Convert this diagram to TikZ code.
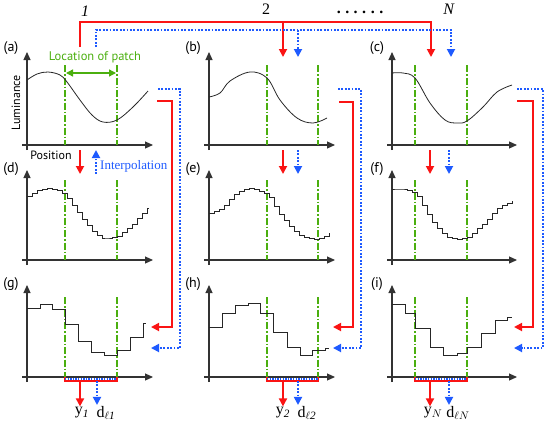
\documentclass[tikz,border=0pt]{standalone}
\usepackage{fontspec}
\setmainfont{Liberation Serif}
\setsansfont{PT Sans}
\usetikzlibrary{arrows.meta}
\definecolor{patchgreen}{RGB}{75,175,15}
\definecolor{flowred}{RGB}{250,20,20}
\definecolor{flowblue}{RGB}{30,90,255}

\begin{document}
\begin{tikzpicture}[x=1pt,y=-1pt,
  axisline/.style={line width=1.1pt,black!80,-{Triangle[length=8pt,width=7pt]}},
  patchline/.style={patchgreen,line width=1.6pt,dash pattern=on 7pt off 2pt on 1.5pt off 2pt},
  signal/.style={line width=0.8pt,black!85},
  redflow/.style={flowred,line width=1.8pt},
  blueflow/.style={flowblue,line width=1.8pt,dash pattern=on 1.8pt off 1.6pt},
  flowtip/.style={-{Triangle[length=8pt,width=8pt]}},
  lbl/.style={font=\sffamily\fontsize{14}{14}\selectfont},
  outlbl/.style={font=\fontsize{16}{16}\selectfont,inner sep=1pt}]
\useasboundingbox (0,0) rectangle (545,429);

% column headers
\node[outlbl] (n1) at (85,11) {\textit{1}};
\node[outlbl] (n2) at (266,9) {2};
\node[outlbl] (nN) at (449,9) {\textit{N}};
\node[outlbl] (dots) at (360,12) {\textbf{.\hspace{4.5pt}.\hspace{4.5pt}.\hspace{4.5pt}.\hspace{4.5pt}.\hspace{4.5pt}.}};

% axes
\draw[axisline] (22,145) -- (153,145); \draw[axisline] (27,150) -- (27,52);
\draw[axisline] (204,145) -- (335,145); \draw[axisline] (209,150) -- (209,52);
\draw[axisline] (387,145) -- (517,145); \draw[axisline] (392,150) -- (392,52);
\draw[axisline] (22,260) -- (153,260); \draw[axisline] (27,265) -- (27,170);
\draw[axisline] (204,260) -- (335,260); \draw[axisline] (209,265) -- (209,170);
\draw[axisline] (387,260) -- (517,260); \draw[axisline] (392,265) -- (392,170);
\draw[axisline] (22,377) -- (153,377); \draw[axisline] (27,382) -- (27,285);
\draw[axisline] (204,377) -- (335,377); \draw[axisline] (209,382) -- (209,285);
\draw[axisline] (387,377) -- (517,377); \draw[axisline] (392,382) -- (392,285);

\node[lbl] (pa) at (11,48) {(a)};
\node[lbl] (pb) at (193,48) {(b)};
\node[lbl] (pc) at (377,48) {(c)};
\node[lbl] (pd) at (11,169) {(d)};
\node[lbl] (pe) at (193,169) {(e)};
\node[lbl] (pf) at (377,169) {(f)};
\node[lbl] (pg) at (11,284) {(g)};
\node[lbl] (ph) at (193,284) {(h)};
\node[lbl] (pi) at (377,284) {(i)};

% patch boundaries
\draw[patchline] (65,65) -- (65,145); \draw[patchline] (117,65) -- (117,145);
\draw[patchline] (267,65) -- (267,145); \draw[patchline] (318,65) -- (318,145);
\draw[patchline] (415,65) -- (415,145); \draw[patchline] (467,65) -- (467,145);
\draw[patchline] (65,180) -- (65,260); \draw[patchline] (117,180) -- (117,260);
\draw[patchline] (267,180) -- (267,260); \draw[patchline] (318,180) -- (318,260);
\draw[patchline] (415,180) -- (415,260); \draw[patchline] (467,180) -- (467,260);
\draw[patchline] (65,297) -- (65,377); \draw[patchline] (117,297) -- (117,377);
\draw[patchline] (267,297) -- (267,377); \draw[patchline] (318,297) -- (318,377);
\draw[patchline] (415,297) -- (415,377); \draw[patchline] (467,297) -- (467,377);

\node[patchgreen,font=\sffamily\fontsize{12.5}{12.5}\selectfont] (loc) at (95,57) {Location of patch};
\draw[patchgreen,line width=1.3pt,{Triangle[length=7pt,width=7pt]}-{Triangle[length=7pt,width=7pt]}] (66,73) -- (116,73);
\node[font=\sffamily\fontsize{12}{12}\selectfont,rotate=90] (lum) at (16,103) {Luminance};
\node[font=\sffamily\fontsize{12}{12}\selectfont] (pos) at (51,155) {Position};
\node[flowblue,font=\fontsize{13}{13}\selectfont,anchor=west,inner sep=0pt] (interp) at (100,166) {Interpolation};

% original signals
\draw[signal] plot[smooth,tension=0.6] coordinates {(27,80) (37,74) (48,72) (60,75) (67,82) (80,100) (92,115) (103,122) (117,120) (133,107) (148,91)};
\draw[signal] plot[smooth,tension=0.6] coordinates {(209,97) (220,93) (230,81) (250,72) (267,78) (280,100) (297,118) (313,123) (327,118)};
\draw[signal] plot[smooth,tension=0.6] coordinates {(392,73) (403,73) (415,78) (430,103) (445,120) (457,123) (467,121) (483,107) (497,92) (512,85)};

% fine sampled signals
\draw[signal] plot[const plot] coordinates {(27,196) (32,193) (37,190) (42,189) (47,188) (52,189) (57,190) (62,193) (67,198) (72,205) (77,212) (82,219) (87,225) (92,231) (97,235) (102,238) (107,238) (112,237) (117,236) (122,232) (127,228) (132,224) (137,218) (142,213) (147,208) (149,208)};
\draw[signal] plot[const plot] coordinates {(209,213) (214,211) (219,209) (224,205) (229,199) (234,194) (239,191) (244,189) (249,188) (254,189) (259,191) (264,193) (269,197) (274,206) (279,214) (284,220) (289,226) (294,231) (299,235) (304,237) (309,238) (314,239) (319,238) (324,236) (329,233) (330,233)};
\draw[signal] plot[const plot] coordinates {(392,189) (397,189) (402,189) (407,190) (412,192) (417,196) (422,205) (427,214) (432,222) (437,228) (442,233) (447,237) (452,238) (457,239) (462,238) (467,237) (472,233) (477,228) (482,224) (487,219) (492,213) (497,208) (502,205) (507,203) (512,201) (513,201)};

% coarse sampled signals
\draw[signal] plot[const plot] coordinates {(27,308) (40,304) (52,309) (65,324) (78,341) (91,352) (104,355) (117,350) (130,337) (143,323) (146,323)};
\draw[signal] plot[const plot] coordinates {(209,327) (222,313) (235,305) (248,303) (260,313) (273,332) (287,347) (300,355) (312,350) (325,348) (329,348)};
\draw[signal] plot[const plot] coordinates {(392,304) (405,313) (415,328) (430,347) (443,355) (457,353) (467,347) (481,333) (495,320) (507,317) (512,317)};

% patch selection
\draw[flowred,line width=1.3pt] (65,377) |- (117,381) -- (117,377);
\draw[flowred,line width=1.3pt] (267,377) |- (318,381) -- (318,377);
\draw[flowred,line width=1.3pt] (415,377) |- (467,381) -- (467,377);
\draw[flowblue,line width=1.2pt,dash pattern=on 1.3pt off 1.3pt] (65,379) -- (117,379);
\draw[flowblue,line width=1.2pt,dash pattern=on 1.3pt off 1.3pt] (267,379) -- (318,379);
\draw[flowblue,line width=1.2pt,dash pattern=on 1.3pt off 1.3pt] (415,379) -- (467,379);

\node[outlbl] (y1) at (82,413) {y$_{\mathit{1}}$};
\node[outlbl] (d1) at (106,413) {d$_{\ell\mathit{1}}$};
\node[outlbl] (y2) at (283,413) {y$_{\mathit{2}}$};
\node[outlbl] (d2) at (307,413) {d$_{\ell\mathit{2}}$};
\node[outlbl] (yN) at (433,413) {y$_{N}$};
\node[outlbl] (dN) at (458,413) {d$_{\ell N}$};

\draw[redflow,flowtip] (80,381) -- (y1.north -| 80,0);
\draw[blueflow,flowtip] (97,381) -- (d1.north -| 97,0);
\draw[redflow,flowtip] (283,381) -- (y2.north -| 283,0);
\draw[blueflow,flowtip] (298,381) -- (d2.north -| 298,0);
\draw[redflow,flowtip] (430,381) -- (yN.north -| 430,0);
\draw[blueflow,flowtip] (449,381) -- (dN.north -| 449,0);

% transfer of patch location
\coordinate (ra) at (80,47);
\coordinate (ba) at (96,47);
\draw[redflow,flowtip] (ra) |- (431,22) -- (431,57);
\draw[redflow,flowtip] (283,22) -- (283,57);
\draw[blueflow,flowtip] (ba) |- (451,30) -- (451,57);
\draw[blueflow,flowtip] (298,30) -- (298,57);

% resampling steps
\draw[redflow,flowtip] (80,150) -- (80,174);
\draw[blueflow,flowtip] (96,174) -- (96,150);
\draw[redflow,flowtip] (283,150) -- (283,174);
\draw[blueflow,flowtip] (298,150) -- (298,174);
\draw[redflow,flowtip] (430,150) -- (430,174);
\draw[blueflow,flowtip] (449,150) -- (449,174);

% feedback to coarse signals
\draw[blueflow,flowtip] (158,89) -- (180,89) |- (151,348);
\draw[redflow,flowtip] (157,101) -- (172,101) |- (151,327);
\draw[blueflow,flowtip] (338,89) -- (361,89) |- (333,348);
\draw[redflow,flowtip] (339,102) -- (353,102) |- (333,327);
\draw[blueflow,flowtip] (517,89) -- (543,89) |- (514,348);
\draw[redflow,flowtip] (517,101) -- (533,101) |- (514,327);
\end{tikzpicture}
\end{document}
